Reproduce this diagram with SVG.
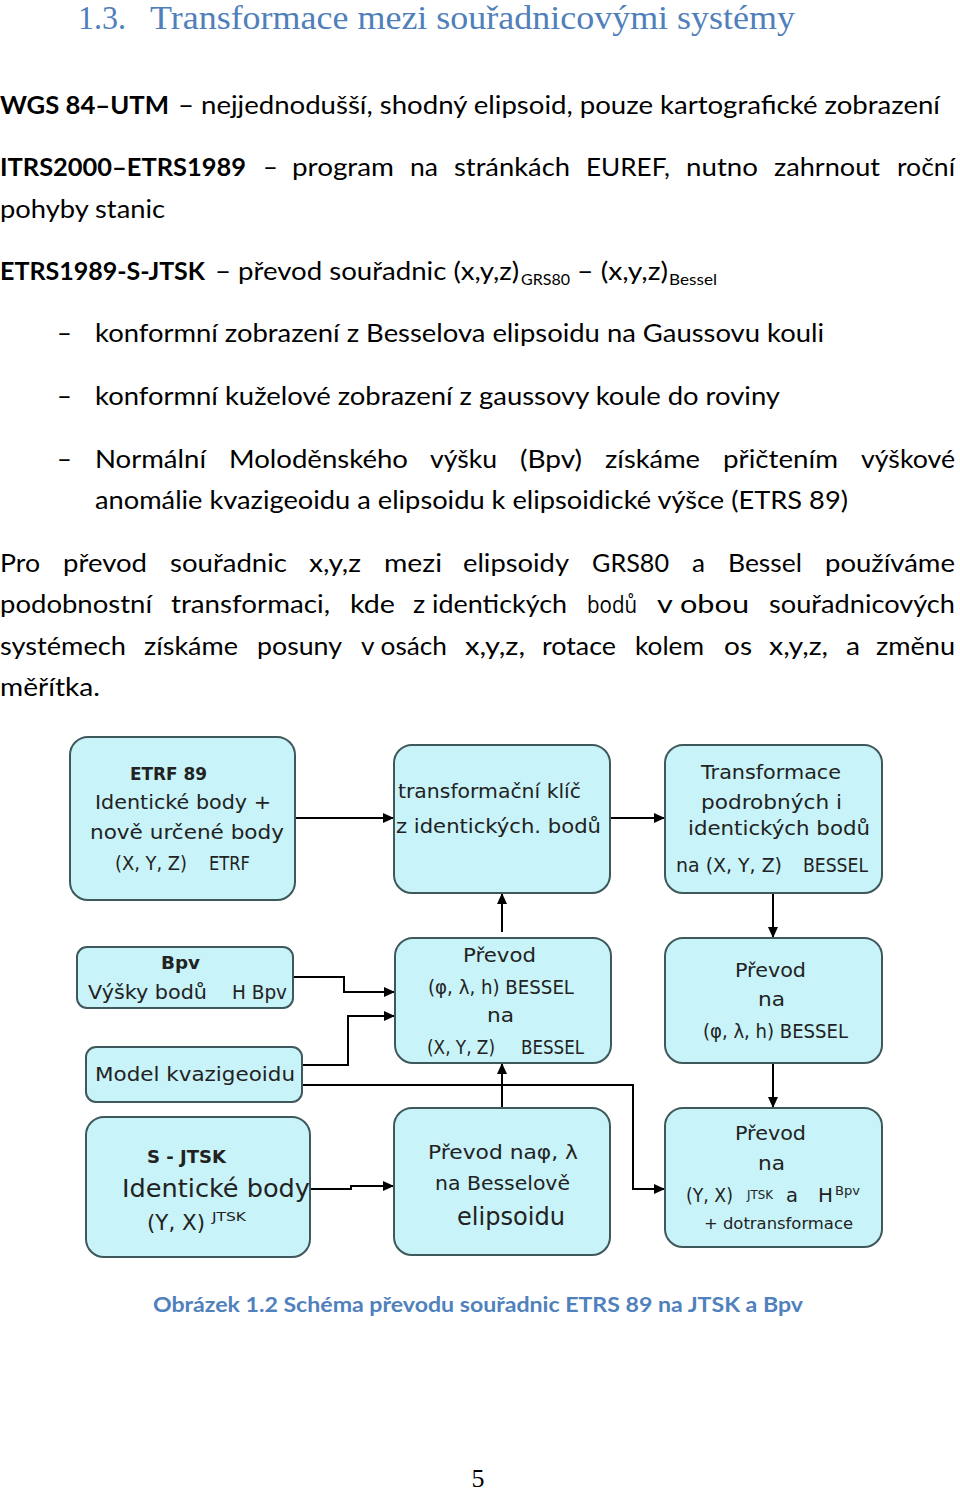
<svg xmlns="http://www.w3.org/2000/svg" width="960" height="1491" viewBox="0 0 960 1491">
<style>
.h{font-family:"Liberation Serif","DejaVu Serif",serif;font-size:33px;fill:#5080ba}
.b{font-family:Lato,"Open Sans","Liberation Sans",sans-serif;font-size:25.5px;fill:#000}
.os{font-family:"Open Sans","Noto Sans",sans-serif;font-size:24px}
.bb{font-weight:bold}
.sub{font-size:16px}
.cap{font-family:Lato,"Open Sans","Liberation Sans",sans-serif;font-size:20px;font-weight:bold;fill:#4f81bd}
.pn{font-family:"Liberation Serif",serif;font-size:26px;fill:#000}
.box{fill:#c8f3f8;stroke:#3e585c;stroke-width:2}
.t{font-family:"DejaVu Sans","Liberation Sans",sans-serif;font-size:20px;fill:#222}
.tb{font-weight:bold;font-size:18px}
.sm{font-size:13px}
.c{fill:none;stroke:#000;stroke-width:2}
</style>
<defs>
<marker id="ah" markerUnits="userSpaceOnUse" markerWidth="12" markerHeight="10" refX="11" refY="5" orient="auto">
<path d="M0,0 L11,5 L0,10 z" fill="#000"/>
</marker>
</defs>

<g id="page-text">
<text class="h" x="78" y="29" textLength="48" lengthAdjust="spacingAndGlyphs">1.3.</text>
<text class="h" x="150" y="29" textLength="645" lengthAdjust="spacingAndGlyphs">Transformace mezi souřadnicovými systémy</text>

<text class="b bb" x="0" y="114" textLength="169" lengthAdjust="spacingAndGlyphs">WGS 84–UTM</text>
<text class="b" x="178" y="114" textLength="762" lengthAdjust="spacingAndGlyphs">– nejjednodušší, shodný elipsoid, pouze kartografické zobrazení</text>

<text class="b bb" x="0" y="176" textLength="246" lengthAdjust="spacingAndGlyphs">ITRS2000–ETRS1989</text>
<text class="b" x="263" y="176">–</text>
<text class="b" x="292" y="176" textLength="102" lengthAdjust="spacingAndGlyphs">program</text>
<text class="b" x="410" y="176" textLength="28" lengthAdjust="spacingAndGlyphs">na</text>
<text class="b" x="454" y="176" textLength="116" lengthAdjust="spacingAndGlyphs">stránkách</text>
<text class="b" x="586" y="176" textLength="84" lengthAdjust="spacingAndGlyphs">EUREF,</text>
<text class="b" x="686" y="176" textLength="72" lengthAdjust="spacingAndGlyphs">nutno</text>
<text class="b" x="774" y="176" textLength="106" lengthAdjust="spacingAndGlyphs">zahrnout</text>
<text class="b" x="897" y="176" textLength="58" lengthAdjust="spacingAndGlyphs">roční</text>
<text class="b" x="0" y="218" textLength="165" lengthAdjust="spacingAndGlyphs">pohyby stanic</text>

<text class="b bb" x="0" y="280" textLength="205" lengthAdjust="spacingAndGlyphs">ETRS1989-S-JTSK</text>
<text class="b" x="215" y="280" textLength="304" lengthAdjust="spacingAndGlyphs">– převod souřadnic (x,y,z)</text>
<text class="b sub" x="521" y="285" textLength="49" lengthAdjust="spacingAndGlyphs">GRS80</text>
<text class="b" x="577" y="280" textLength="91" lengthAdjust="spacingAndGlyphs">– (x,y,z)</text>
<text class="b sub" x="669" y="285" textLength="48" lengthAdjust="spacingAndGlyphs">Bessel</text>

<text class="b" x="57" y="342">–</text>
<text class="b" x="95" y="342" textLength="729" lengthAdjust="spacingAndGlyphs">konformní zobrazení z Besselova elipsoidu na Gaussovu kouli</text>
<text class="b" x="57" y="405">–</text>
<text class="b" x="95" y="405" textLength="685" lengthAdjust="spacingAndGlyphs">konformní kuželové zobrazení z gaussovy koule do roviny</text>
<text class="b" x="57" y="468">–</text>
<text class="b" x="95" y="468" textLength="111" lengthAdjust="spacingAndGlyphs">Normální</text>
<text class="b" x="229" y="468" textLength="179" lengthAdjust="spacingAndGlyphs">Moloděnského</text>
<text class="b" x="430" y="468" textLength="67" lengthAdjust="spacingAndGlyphs">výšku</text>
<text class="b" x="520" y="468" textLength="62" lengthAdjust="spacingAndGlyphs">(Bpv)</text>
<text class="b" x="605" y="468" textLength="95" lengthAdjust="spacingAndGlyphs">získáme</text>
<text class="b" x="723" y="468" textLength="115" lengthAdjust="spacingAndGlyphs">přičtením</text>
<text class="b" x="861" y="468" textLength="94" lengthAdjust="spacingAndGlyphs">výškové</text>
<text class="b" x="95" y="509" textLength="753" lengthAdjust="spacingAndGlyphs">anomálie kvazigeoidu a elipsoidu k elipsoidické výšce (ETRS 89)</text>

<text class="b" x="0" y="572" textLength="40" lengthAdjust="spacingAndGlyphs">Pro</text>
<text class="b" x="63" y="572" textLength="84" lengthAdjust="spacingAndGlyphs">převod</text>
<text class="b" x="170" y="572" textLength="117" lengthAdjust="spacingAndGlyphs">souřadnic</text>
<text class="b" x="309" y="572" textLength="52" lengthAdjust="spacingAndGlyphs">x,y,z</text>
<text class="b" x="384" y="572" textLength="58" lengthAdjust="spacingAndGlyphs">mezi</text>
<text class="b" x="463" y="572" textLength="106" lengthAdjust="spacingAndGlyphs">elipsoidy</text>
<text class="b" x="592" y="572" textLength="77" lengthAdjust="spacingAndGlyphs">GRS80</text>
<text class="b" x="692" y="572" textLength="13" lengthAdjust="spacingAndGlyphs">a</text>
<text class="b" x="728" y="572" textLength="74" lengthAdjust="spacingAndGlyphs">Bessel</text>
<text class="b" x="825" y="572" textLength="130" lengthAdjust="spacingAndGlyphs">používáme</text>

<text class="b" x="0" y="613" textLength="152" lengthAdjust="spacingAndGlyphs">podobnostní</text>
<text class="b" x="171" y="613" textLength="159" lengthAdjust="spacingAndGlyphs">transformaci,</text>
<text class="b" x="350" y="613" textLength="45" lengthAdjust="spacingAndGlyphs">kde</text>
<text class="b" x="413" y="613" textLength="154" lengthAdjust="spacingAndGlyphs">z identických</text>
<text class="b os" x="587" y="613" textLength="50" lengthAdjust="spacingAndGlyphs">bodů</text>
<text class="b" x="657" y="613" textLength="92" lengthAdjust="spacingAndGlyphs">v obou</text>
<text class="b" x="769" y="613" textLength="186" lengthAdjust="spacingAndGlyphs">souřadnicových</text>

<text class="b" x="0" y="655" textLength="126" lengthAdjust="spacingAndGlyphs">systémech</text>
<text class="b" x="144" y="655" textLength="94" lengthAdjust="spacingAndGlyphs">získáme</text>
<text class="b" x="257" y="655" textLength="85" lengthAdjust="spacingAndGlyphs">posuny</text>
<text class="b" x="361" y="655" textLength="86" lengthAdjust="spacingAndGlyphs">v osách</text>
<text class="b" x="465" y="655" textLength="60" lengthAdjust="spacingAndGlyphs">x,y,z,</text>
<text class="b" x="542" y="655" textLength="74" lengthAdjust="spacingAndGlyphs">rotace</text>
<text class="b" x="635" y="655" textLength="69" lengthAdjust="spacingAndGlyphs">kolem</text>
<text class="b" x="724" y="655" textLength="28" lengthAdjust="spacingAndGlyphs">os</text>
<text class="b" x="769" y="655" textLength="59" lengthAdjust="spacingAndGlyphs">x,y,z,</text>
<text class="b" x="846" y="655" textLength="14" lengthAdjust="spacingAndGlyphs">a</text>
<text class="b" x="876" y="655" textLength="79" lengthAdjust="spacingAndGlyphs">změnu</text>
<text class="b" x="0" y="696" textLength="100" lengthAdjust="spacingAndGlyphs">měřítka.</text>

<text class="cap" x="153" y="1312" textLength="650" lengthAdjust="spacingAndGlyphs">Obrázek 1.2 Schéma převodu souřadnic ETRS 89 na JTSK a Bpv</text>
<text class="pn" x="478" y="1487" text-anchor="middle">5</text>
</g>

<g id="connectors">
<path class="c" marker-end="url(#ah)" d="M295,818 L394,818"/>
<path class="c" marker-end="url(#ah)" d="M610,818 L665,818"/>
<path class="c" marker-end="url(#ah)" d="M502,932 L502,893"/>
<path class="c" marker-end="url(#ah)" d="M773,893 L773,938"/>
<path class="c" marker-end="url(#ah)" d="M293,977 L344,977 L344,992 L395,992"/>
<path class="c" marker-end="url(#ah)" d="M302,1065 L348,1065 L348,1016 L395,1016"/>
<path class="c" marker-end="url(#ah)" d="M502,1108 L502,1063"/>
<path class="c" marker-end="url(#ah)" d="M773,1063 L773,1108"/>
<path class="c" marker-end="url(#ah)" d="M302,1085 L633,1085 L633,1189 L665,1189"/>
<path class="c" marker-end="url(#ah)" d="M310,1189 L351,1189 L351,1186 L394,1186"/>
</g>

<g id="n-etrf">
<rect class="box" x="70" y="737" width="225" height="163" rx="18"/>
<text class="t tb" x="130" y="780" textLength="77" lengthAdjust="spacingAndGlyphs">ETRF 89</text>
<text class="t" x="95" y="809" textLength="176" lengthAdjust="spacingAndGlyphs">Identické body +</text>
<text class="t" x="90" y="839" textLength="194" lengthAdjust="spacingAndGlyphs">nově určené body</text>
<text class="t" x="115" y="870" textLength="72" lengthAdjust="spacingAndGlyphs">(X, Y, Z)</text>
<text class="t" x="209" y="870" textLength="41" lengthAdjust="spacingAndGlyphs">ETRF</text>
</g>

<g id="n-klic">
<rect class="box" x="394" y="745" width="216" height="148" rx="18"/>
<text class="t" x="398" y="798" textLength="183" lengthAdjust="spacingAndGlyphs">transformační klíč</text>
<text class="t" x="396" y="833" textLength="205" lengthAdjust="spacingAndGlyphs">z identických. bodů</text>
</g>

<g id="n-transf">
<rect class="box" x="665" y="745" width="217" height="148" rx="18"/>
<text class="t" x="701" y="779" textLength="140" lengthAdjust="spacingAndGlyphs">Transformace</text>
<text class="t" x="701" y="809" textLength="141" lengthAdjust="spacingAndGlyphs">podrobných i</text>
<text class="t" x="688" y="835" textLength="182" lengthAdjust="spacingAndGlyphs">identických bodů</text>
<text class="t" x="676" y="872" textLength="106" lengthAdjust="spacingAndGlyphs">na (X, Y, Z)</text>
<text class="t" x="803" y="872" textLength="65" lengthAdjust="spacingAndGlyphs">BESSEL</text>
</g>

<g id="n-bpv">
<rect class="box" x="77" y="947" width="216" height="61" rx="10"/>
<text class="t tb" x="161" y="969" textLength="39" lengthAdjust="spacingAndGlyphs">Bpv</text>
<text class="t" x="88" y="999" textLength="119" lengthAdjust="spacingAndGlyphs">Výšky bodů</text>
<text class="t" x="232" y="999" textLength="55" lengthAdjust="spacingAndGlyphs">H Bpv</text>
</g>

<g id="n-model">
<rect class="box" x="86" y="1047" width="216" height="55" rx="10"/>
<text class="t" x="95" y="1081" textLength="200" lengthAdjust="spacingAndGlyphs">Model kvazigeoidu</text>
</g>

<g id="n-prevod-xyz">
<rect class="box" x="395" y="938" width="216" height="125" rx="18"/>
<text class="t" x="463" y="962" textLength="73" lengthAdjust="spacingAndGlyphs">Převod</text>
<text class="t" x="428" y="994" textLength="146" lengthAdjust="spacingAndGlyphs">(φ, λ, h) BESSEL</text>
<text class="t" x="487" y="1022" textLength="27" lengthAdjust="spacingAndGlyphs">na</text>
<text class="t" x="427" y="1054" textLength="68" lengthAdjust="spacingAndGlyphs">(X, Y, Z)</text>
<text class="t" x="521" y="1054" textLength="63" lengthAdjust="spacingAndGlyphs">BESSEL</text>
</g>

<g id="n-prevod-blh">
<rect class="box" x="665" y="938" width="217" height="125" rx="18"/>
<text class="t" x="735" y="977" textLength="71" lengthAdjust="spacingAndGlyphs">Převod</text>
<text class="t" x="758" y="1006" textLength="27" lengthAdjust="spacingAndGlyphs">na</text>
<text class="t" x="703" y="1038" textLength="145" lengthAdjust="spacingAndGlyphs">(φ, λ, h) BESSEL</text>
</g>

<g id="n-sjtsk">
<rect class="box" x="86" y="1117" width="224" height="140" rx="18"/>
<text class="t tb" x="147" y="1163" textLength="79" lengthAdjust="spacingAndGlyphs">S  - JTSK</text>
<text class="t" x="122" y="1197" style="font-size:25px" textLength="188" lengthAdjust="spacingAndGlyphs">Identické body</text>
<text class="t" x="147" y="1230" style="font-size:22px" textLength="58" lengthAdjust="spacingAndGlyphs">(Y, X)</text>
<text class="t sm" x="212" y="1221" textLength="34" lengthAdjust="spacingAndGlyphs">JTSK</text>
</g>

<g id="n-bessel-elips">
<rect class="box" x="394" y="1108" width="216" height="147" rx="18"/>
<text class="t" x="428" y="1159" textLength="150" lengthAdjust="spacingAndGlyphs">Převod naφ, λ</text>
<text class="t" x="435" y="1190" textLength="135" lengthAdjust="spacingAndGlyphs">na Besselově</text>
<text class="t" x="457" y="1225" style="font-size:24px" textLength="108" lengthAdjust="spacingAndGlyphs">elipsoidu</text>
</g>

<g id="n-prevod-jtsk">
<rect class="box" x="665" y="1108" width="217" height="139" rx="18"/>
<text class="t" x="735" y="1140" textLength="71" lengthAdjust="spacingAndGlyphs">Převod</text>
<text class="t" x="758" y="1170" textLength="27" lengthAdjust="spacingAndGlyphs">na</text>
<text class="t" x="686" y="1202" textLength="47" lengthAdjust="spacingAndGlyphs">(Y, X)</text>
<text class="t sm" x="747" y="1199" textLength="26" lengthAdjust="spacingAndGlyphs">JTSK</text>
<text class="t" x="786" y="1202" textLength="12" lengthAdjust="spacingAndGlyphs">a</text>
<text class="t" x="818" y="1202" textLength="15" lengthAdjust="spacingAndGlyphs">H</text>
<text class="t sm" x="835" y="1195" textLength="25" lengthAdjust="spacingAndGlyphs">Bpv</text>
<text class="t" x="704" y="1229" style="font-size:16px" textLength="149" lengthAdjust="spacingAndGlyphs">+ dotransformace</text>
</g>
</svg>
